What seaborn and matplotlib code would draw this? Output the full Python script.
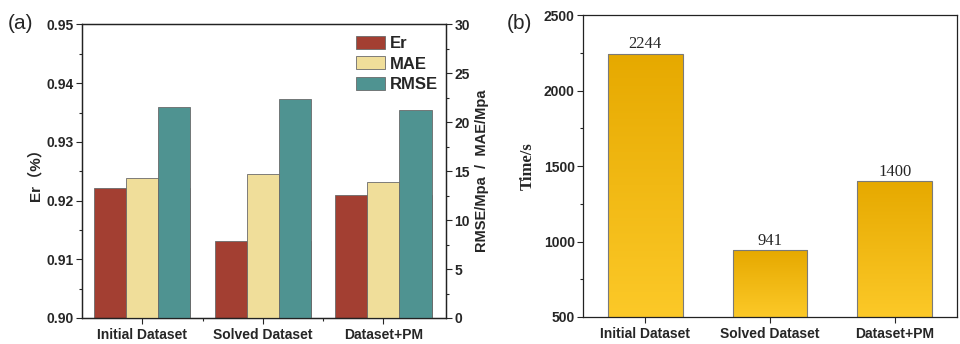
import numpy as np
import pandas as pd
import matplotlib
matplotlib.use('Agg')
import matplotlib.pyplot as plt
from matplotlib.ticker import MultipleLocator, FixedLocator, FormatStrFormatter
from matplotlib.patches import Patch
import seaborn as sns

# ---- data ----
datasets = ['Initial Dataset', 'Solved Dataset', 'Dataset+PM']
er = [0.9222, 0.9132, 0.9210]
mae = [14.3, 14.7, 13.9]
rmse = [21.6, 22.4, 21.3]
time_s = [2244, 941, 1400]
metrics = ['Er', 'MAE', 'RMSE']

colors = {'Er': '#A33F32', 'MAE': '#F0DE9A', 'RMSE': '#4F9391'}
grad_top = '#E6A900'
grad_bottom = '#FCC928'

sns.set_style('ticks')
plt.rcParams['font.family'] = ['Liberation Sans', 'Noto Sans CJK SC', 'DejaVu Sans']

df = pd.DataFrame({
    'dataset': datasets * 3,
    'metric': ['Er'] * 3 + ['MAE'] * 3 + ['RMSE'] * 3,
    'value': er + mae + rmse,
})


def style_axis(ax):
    for s in ax.spines.values():
        s.set_visible(True)
        s.set_color('#222222')
        s.set_linewidth(0.9)
    ax.tick_params(which='major', length=4, width=0.8, direction='out')
    ax.tick_params(which='minor', length=2.5, width=0.8, direction='out')


fig = plt.figure(figsize=(9.6, 3.44), dpi=100)
ax1 = fig.add_axes([0.0854, 0.0756, 0.3792, 0.8532])
ax2 = ax1.twinx()
axb = fig.add_axes([0.6073, 0.0785, 0.3896, 0.8775])

# ---- (a) ----
sns.barplot(data=df[df.metric == 'Er'], x='dataset', y='value', hue='metric',
            hue_order=metrics, palette=colors, order=datasets, ax=ax1,
            legend=False, edgecolor='#6a6a6a', linewidth=0.6, saturation=1)
sns.barplot(data=df[df.metric != 'Er'], x='dataset', y='value', hue='metric',
            hue_order=metrics, palette=colors, order=datasets, ax=ax2,
            legend=False, edgecolor='#6a6a6a', linewidth=0.6, saturation=1)

ax1.set_ylim(0.90, 0.95)
ax2.set_ylim(0, 30)
ax1.set_xlim(-0.5, 2.52)
ax1.yaxis.set_major_locator(MultipleLocator(0.01))
ax1.yaxis.set_minor_locator(MultipleLocator(0.005))
ax2.yaxis.set_major_locator(MultipleLocator(5))
ax2.yaxis.set_minor_locator(MultipleLocator(2.5))
ax1.xaxis.set_minor_locator(FixedLocator([0.5, 1.5]))
ax1.yaxis.set_major_formatter(FormatStrFormatter('%.2f'))

for ax in (ax1, ax2):
    ax.set_xlabel('')
    style_axis(ax)

ax1.tick_params(axis='y', labelsize=10, pad=2)
ax2.tick_params(axis='y', labelsize=10, pad=2)
ax1.tick_params(axis='x', labelsize=10)
for lab in ax1.get_xticklabels() + ax1.get_yticklabels() + ax2.get_yticklabels():
    lab.set_fontweight('bold')

ax1.set_ylabel('Er（%）', fontsize=11, fontweight='bold', labelpad=3)
ax2.set_ylabel('RMSE/Mpa  /  MAE/Mpa', fontsize=10.5, fontweight='bold', labelpad=4)

handles = [Patch(facecolor=colors[m], edgecolor='#6a6a6a', linewidth=0.6, label=m) for m in metrics]
ax2.legend(handles=handles, loc='upper right', frameon=False,
           prop={'weight': 'bold', 'size': 12}, handlelength=1.75, handleheight=0.85,
           handletextpad=0.25, labelspacing=0.3, borderaxespad=0.1,
           bbox_to_anchor=(1.0, 0.99))

fig.text(0.008, 0.915, '(a)', fontsize=15)

# ---- (b) ----
tdf = pd.DataFrame({'dataset': datasets, 'time': time_s})
sns.barplot(data=tdf, x='dataset', y='time', order=datasets, color=grad_top,
            width=0.6, ax=axb, edgecolor='#7a7a7a', linewidth=0.8, saturation=1)

cmap = matplotlib.colors.LinearSegmentedColormap.from_list('g', [grad_bottom, grad_top])
grad = np.linspace(0, 1, 256).reshape(-1, 1)
for p in axb.patches:
    x0, x1 = p.get_x(), p.get_x() + p.get_width()
    y1 = p.get_y() + p.get_height()
    im = axb.imshow(grad, cmap=cmap, aspect='auto', origin='lower',
                    extent=[x0, x1, 500, y1], zorder=p.get_zorder() - 0.1)
    im.set_clip_path(p)
    p.set_facecolor('none')
    p.set_zorder(p.get_zorder() + 0.2)
axb.set_xlim(-0.5, 2.5)
axb.set_ylim(500, 2500)

for cont in axb.containers:
    axb.bar_label(cont, labels=[str(v) for v in time_s], fontsize=12,
                  family='Liberation Serif', padding=1)

axb.yaxis.set_major_locator(MultipleLocator(500))
axb.yaxis.set_minor_locator(MultipleLocator(250))
axb.set_xlabel('')
axb.set_ylabel('Time/s', fontsize=12, fontweight='bold', family='Liberation Serif', labelpad=6)
style_axis(axb)
axb.tick_params(axis='y', labelsize=10, pad=2)
axb.tick_params(axis='x', labelsize=10)
for lab in axb.get_xticklabels() + axb.get_yticklabels():
    lab.set_fontweight('bold')

fig.text(0.528, 0.915, '(b)', fontsize=15)

fig.savefig('out.png', dpi=100)
